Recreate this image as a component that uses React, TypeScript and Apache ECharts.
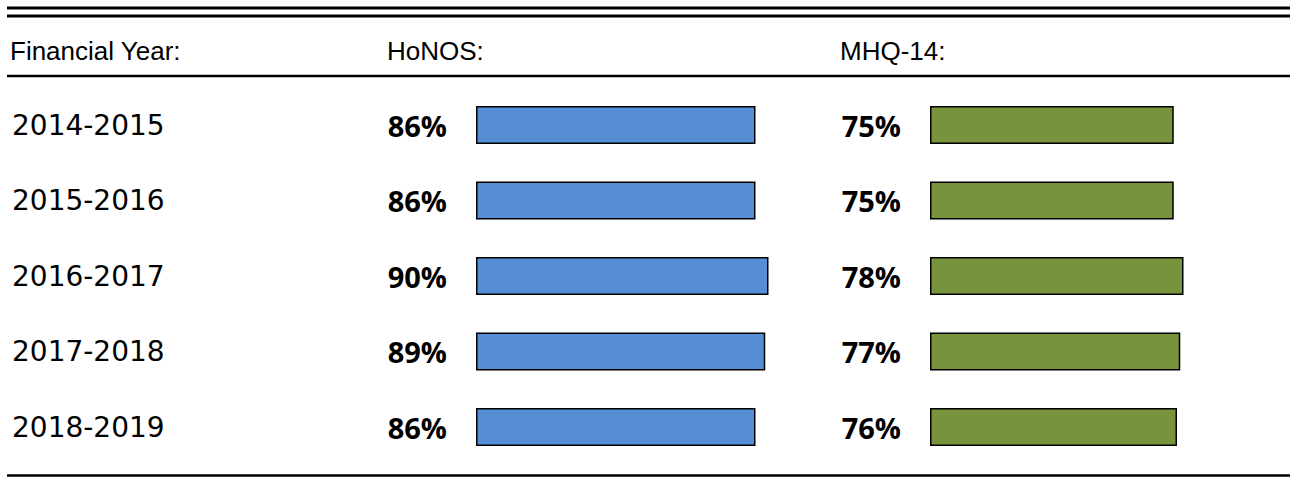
import React, { useEffect, useRef } from "react";
import * as echarts from "echarts";

const years = ["2014-2015", "2015-2016", "2016-2017", "2017-2018", "2018-2019"];
const honos = [86, 86, 90, 89, 86];
const mhq14 = [75, 75, 78, 77, 76];
const headers = ["Financial Year:", "HoNOS:", "MHQ-14:"];

export default function App() {
  const ref = useRef<HTMLDivElement>(null);
  useEffect(() => {
    if (!ref.current) return;
    const chart = echarts.init(ref.current, null, { renderer: "svg" });
    const W = 1290;
    const rowTop = 87.25;
    const rowsH = 377.5;
    const pctLabel = {
      show: true,
      position: "left",
      distance: 29,
      formatter: "{c}%",
      fontFamily: "Open Sans",
      fontWeight: "bold",
      fontSize: 29,
      color: "#000",
    };
    const headerStyle = (t: string) => ({
      text: t,
      fontFamily: "Liberation Sans",
      fontSize: 26,
      fill: "#000",
      verticalAlign: "middle",
    });
    chart.setOption({
      animation: false,
      grid: [
        { left: 476, width: 325, top: rowTop, height: rowsH },
        { left: 930, width: 325, top: rowTop, height: rowsH },
      ],
      xAxis: [
        { type: "value", gridIndex: 0, min: 0, max: 100, show: false },
        { type: "value", gridIndex: 1, min: 0, max: 100, show: false },
      ],
      yAxis: [
        {
          type: "category",
          gridIndex: 0,
          data: years,
          inverse: true,
          axisLine: { show: false },
          axisTick: { show: false },
          axisLabel: {
            align: "left",
            margin: 464,
            fontFamily: "DejaVu Sans",
            fontSize: 28,
            color: "#000",
          },
        },
        {
          type: "category",
          gridIndex: 1,
          data: years,
          inverse: true,
          show: false,
        },
      ],
      series: [
        {
          type: "bar",
          xAxisIndex: 0,
          yAxisIndex: 0,
          data: honos,
          barWidth: 38,
          itemStyle: { color: "#558ED5", borderColor: "#000", borderWidth: 1.5 },
          label: pctLabel,
        },
        {
          type: "bar",
          xAxisIndex: 1,
          yAxisIndex: 1,
          data: mhq14,
          barWidth: 38,
          itemStyle: { color: "#77933C", borderColor: "#000", borderWidth: 1.5 },
          label: pctLabel,
        },
      ],
      graphic: [
        { type: "line", shape: { x1: 7, y1: 8, x2: W, y2: 8 }, style: { stroke: "#000", lineWidth: 3 } },
        { type: "line", shape: { x1: 7, y1: 16, x2: W, y2: 16 }, style: { stroke: "#000", lineWidth: 3 } },
        { type: "line", shape: { x1: 7, y1: 76, x2: W, y2: 76 }, style: { stroke: "#000", lineWidth: 2.5 } },
        { type: "line", shape: { x1: 7, y1: 475.5, x2: W, y2: 475.5 }, style: { stroke: "#000", lineWidth: 2.5 } },
        { type: "text", x: 10, y: 51, style: headerStyle(headers[0]) },
        { type: "text", x: 387, y: 51, style: headerStyle(headers[1]) },
        { type: "text", x: 840, y: 51, style: headerStyle(headers[2]) },
      ],
    });
    return () => chart.dispose();
  }, []);
  return (
    <div
      ref={ref}
      style={{ position: "absolute", left: 0, top: 0, width: 1290, height: 477, background: "#fff" }}
    />
  );
}
